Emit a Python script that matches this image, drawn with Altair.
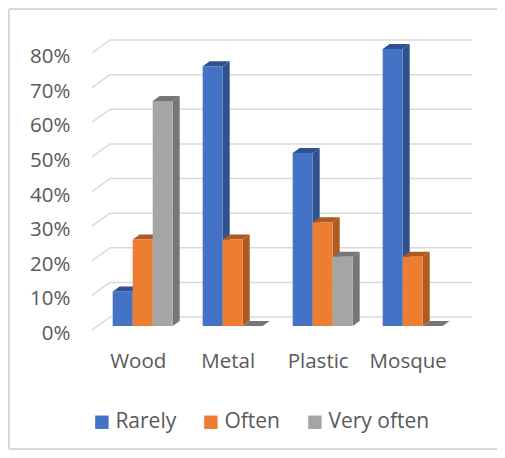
import altair as alt
import pandas as pd

# ---- data ----
CATEGORIES = ["Wood", "Metal", "Plastic", "Mosque"]
SERIES = ["Rarely", "Often", "Very often"]
RARELY = [0.10, 0.75, 0.50, 0.80]
OFTEN = [0.25, 0.25, 0.30, 0.20]
VERY_OFTEN = [0.65, 0.0, 0.20, 0.0]
TICKS = [0.0, 0.1, 0.2, 0.3, 0.4, 0.5, 0.6, 0.7, 0.8]

# ---- styles ----
FRONT = ["#4472C4", "#ED7D31", "#A5A5A5"]
DARK = ["#2F528F", "#AE5A21", "#767676"]
TEXT = "#595959"
GRID = "#D9D9D9"
FONT = "Open Sans"
FS = 20.5

W, H = 380, 277
X_DOMAIN = [-1.035, 17.965]
Y_DOMAIN = [0.0, 0.8]
GROUP_STEP = 4.5
DX = 7 * (X_DOMAIN[1] - X_DOMAIN[0]) / W
DY = 5 * (Y_DOMAIN[1] - Y_DOMAIN[0]) / H

values = [RARELY, OFTEN, VERY_OFTEN]
bars, tops, sides = [], [], []
for c, cat in enumerate(CATEGORIES):
    for s, ser in enumerate(SERIES):
        v = values[s][c]
        x0 = c * GROUP_STEP + s
        x1 = x0 + 1
        bid = f"{cat}-{ser}"
        bars.append(dict(id=bid, series=ser, category=cat, x0=x0, x1=x1, v=v))
        tops.append(dict(id=bid, series=ser, ty=v, xa=x0, xb=x1))
        tops.append(dict(id=bid, series=ser, ty=v + DY, xa=x0 + DX, xb=x1 + DX))
        sides.append(dict(id=bid, series=ser, sx=x1, ya=0.0, yb=v))
        sides.append(dict(id=bid, series=ser, sx=x1 + DX, ya=DY, yb=v + DY))

bars_df = pd.DataFrame(bars)
tops_df = pd.DataFrame(tops)
sides_df = pd.DataFrame(sides)
ticks_df = pd.DataFrame({"t": TICKS})
cats_df = pd.DataFrame({"category": CATEGORIES,
                        "center": [c * GROUP_STEP + 1.5 for c in range(len(CATEGORIES))]})

xs = alt.Scale(domain=X_DOMAIN, nice=False, zero=False)
ys = alt.Scale(domain=Y_DOMAIN, nice=False, zero=False)
dark_color = alt.Color("series:N", scale=alt.Scale(domain=SERIES, range=DARK), legend=None)

grid = alt.Chart(ticks_df).mark_rule(color=GRID, strokeWidth=1.5, yOffset=-9).encode(
    y=alt.Y("t:Q", scale=ys, axis=None),
    x=alt.value(18), x2=alt.value(W),
)
diag = alt.Chart(ticks_df).mark_rule(color=GRID, strokeWidth=1.5, yOffset=4, y2Offset=-9).encode(
    y=alt.Y("t:Q", scale=ys, axis=None), y2="t:Q",
    x=alt.value(0), x2=alt.value(18),
)

side = alt.Chart(sides_df).mark_area(orient="vertical", strokeWidth=0).encode(
    x=alt.X("sx:Q", scale=xs, axis=None),
    y=alt.Y("yb:Q", scale=ys, axis=None), y2="ya:Q",
    detail="id:N", color=dark_color,
)
top = alt.Chart(tops_df).mark_area(orient="horizontal", strokeWidth=0).encode(
    y=alt.Y("ty:Q", scale=ys, axis=None),
    x=alt.X("xb:Q", scale=xs, axis=None), x2="xa:Q",
    detail="id:N", color=dark_color,
)
front = alt.Chart(bars_df).mark_bar(strokeWidth=0).encode(
    x=alt.X("x0:Q", scale=xs, axis=None), x2="x1:Q",
    y=alt.Y("v:Q", scale=ys, title=None,
            axis=alt.Axis(values=TICKS, format=".0%", domain=False, ticks=False, grid=False,
                          labelFont=FONT, labelFontSize=FS, labelColor=TEXT,
                          labelPadding=22, labelOffset=7.5)),
    y2=alt.datum(0),
    color=alt.Color("series:N", scale=alt.Scale(domain=SERIES, range=FRONT),
                    sort=SERIES,
                    legend=alt.Legend(title=None, orient="none", legendX=-0.6, legendY=362.5,
                                      direction="horizontal", symbolType="square",
                                      symbolSize=180, symbolStrokeWidth=0,
                                      labelFont=FONT, labelFontSize=21, labelColor=TEXT,
                                      labelOffset=3, columnPadding=24, padding=0)),
)
labels = alt.Chart(cats_df).mark_text(font=FONT, fontSize=FS, color=TEXT, dx=-4.5,
                                      baseline="middle", align="center").encode(
    x=alt.X("center:Q", scale=xs, axis=None),
    y=alt.value(312.7),
    text="category:N",
)

# outer chart frame (left, top, bottom edges only, as in the reference)
frame_df = pd.DataFrame({"k": [0]})
frame_left = alt.Chart(frame_df).mark_rule(color=GRID, strokeWidth=2).encode(
    x=alt.value(-83), y=alt.value(-40), y2=alt.value(400),
)
frame_top = alt.Chart(frame_df).mark_rule(color=GRID, strokeWidth=2).encode(
    x=alt.value(-83), x2=alt.value(W + 30), y=alt.value(-40),
)
frame_bottom = alt.Chart(frame_df).mark_rule(color=GRID, strokeWidth=2).encode(
    x=alt.value(-83), x2=alt.value(W + 30), y=alt.value(400),
)

chart = alt.layer(frame_left, frame_top, frame_bottom, grid, diag, side, top, front, labels).resolve_scale(
    color="independent"
).resolve_axis(y="independent", x="independent").properties(
    width=W, height=H,
    autosize=alt.AutoSizeParams(type="none"),
    padding={"left": 84, "top": 41, "right": 25, "bottom": 124},
    background="white",
).configure_view(stroke=None)

chart.save("out.html", embed_options={"renderer": "svg", "actions": False})
